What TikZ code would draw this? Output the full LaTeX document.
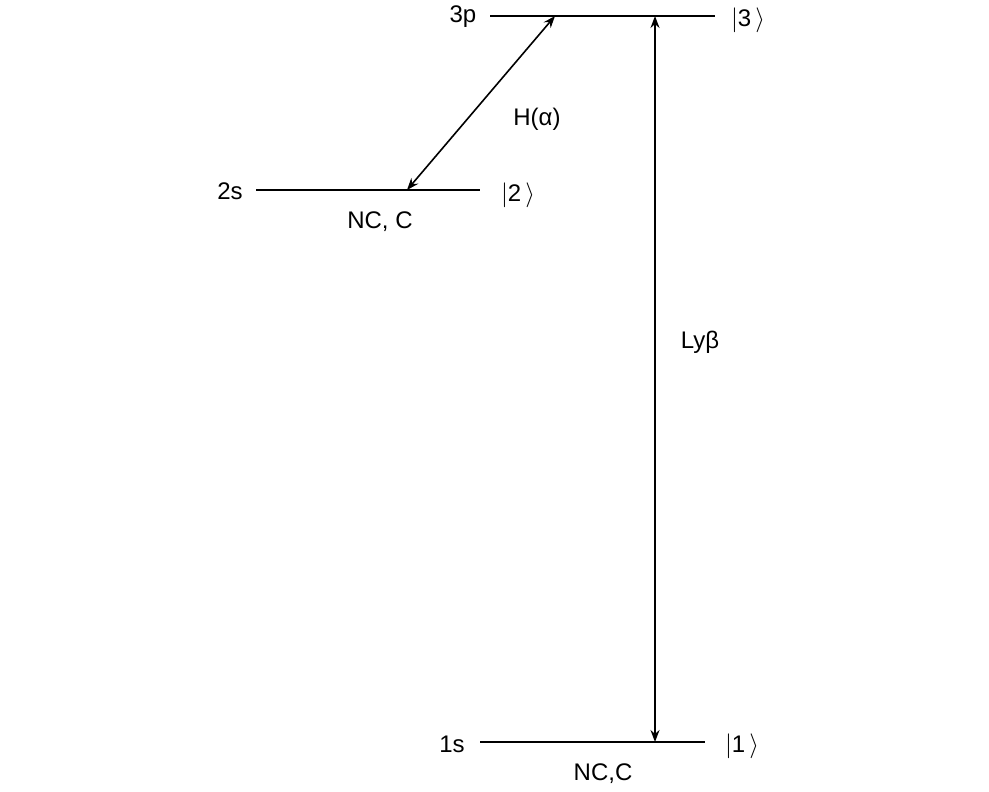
\documentclass[tikz,border=0pt]{standalone}
\usepackage{fontspec}
\usetikzlibrary{arrows.meta}
\setmainfont{Liberation Sans}
\begin{document}
\begin{tikzpicture}[x=1pt,y=-1pt,font=\fontsize{24}{28}\selectfont,
  lvl/.style={line width=2pt},
  arr/.style={line width=1.6pt,{Stealth[length=12pt,width=9pt]}-{Stealth[length=12pt,width=9pt]}},
  lab/.style={inner sep=0pt}]
\useasboundingbox (0,0) rectangle (989,792);
\coordinate (a3) at (490,16); \coordinate (b3) at (715,16);
\coordinate (a2) at (256,190); \coordinate (b2) at (480,190);
\coordinate (a1) at (480,742); \coordinate (b1) at (705,742);
\draw[lvl] (a3) -- (b3);
\draw[lvl] (a2) -- (b2);
\draw[lvl] (a1) -- (b1);
\node[lab] (l3) at (463,17) {3p};
\node[lab] (k3) at (748,20) {$|$3\,$\rangle$};
\node[lab] (l2) at (230,191) {2s};
\node[lab] (k2) at (518,195) {$|$2\,$\rangle$};
\node[lab] (n2) at (380,222) {NC, C};
\node[lab] (l1) at (452,744) {1s};
\node[lab] (k1) at (742,746) {$|$1\,$\rangle$};
\node[lab] (n1) at (603,774) {NC,C};
\coordinate (p2) at (407,190); \coordinate (p3) at (555,16);
\coordinate (q3) at (655,16); \coordinate (q1) at (655,742);
\draw[arr] (p2) -- (p3);
\draw[arr] (q3) -- (q1);
\node[lab] (h) at (537,119) {H(α)};
\node[lab] (ly) at (700,342) {Lyβ};
\end{tikzpicture}
\end{document}
